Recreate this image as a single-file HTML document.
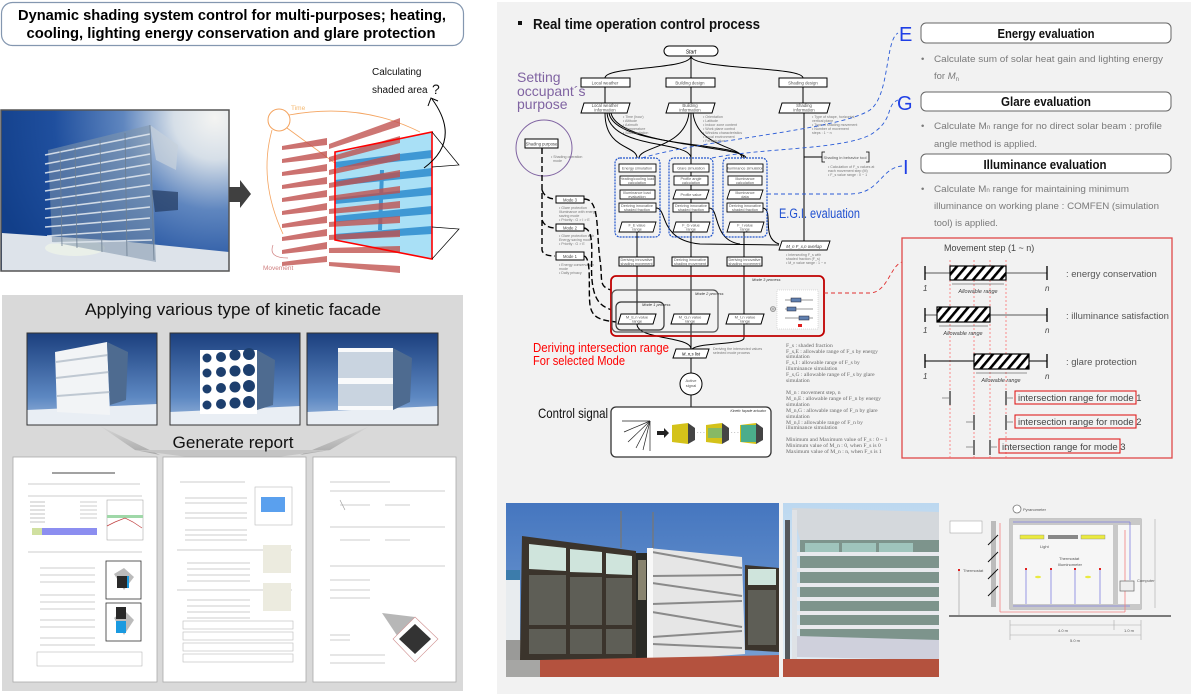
<!DOCTYPE html>
<html><head><meta charset="utf-8"><style>
html,body{margin:0;padding:0;background:#fff;}
svg{display:block;font-family:"Liberation Sans",sans-serif;}
</style></head><body>
<svg width="1191" height="694" viewBox="0 0 1191 694" xmlns="http://www.w3.org/2000/svg">
<defs>
<radialGradient id="p1" cx="215" cy="118" r="230" gradientUnits="userSpaceOnUse">
<stop offset="0" stop-color="#f4f4f2"/><stop offset="0.18" stop-color="#d6dfe8"/><stop offset="0.4" stop-color="#5f86bf"/><stop offset="0.7" stop-color="#1f4f9e"/><stop offset="1" stop-color="#123f8a"/></radialGradient>
<linearGradient id="kf" x1="0" y1="0" x2="0" y2="1"><stop offset="0" stop-color="#1b3f7e"/><stop offset="0.7" stop-color="#5d88c2"/><stop offset="1" stop-color="#9db8dc"/></linearGradient>
<linearGradient id="sky" x1="0" y1="0" x2="0" y2="1"><stop offset="0" stop-color="#4576bf"/><stop offset="1" stop-color="#7ba3d6"/></linearGradient>
<linearGradient id="sky2" x1="0" y1="0" x2="0" y2="1"><stop offset="0" stop-color="#bcd8f0"/><stop offset="1" stop-color="#e6eef4"/></linearGradient>
<linearGradient id="fun" x1="0" y1="0" x2="0" y2="1"><stop offset="0" stop-color="#d6d6d6"/><stop offset="1" stop-color="#a8a8a8"/></linearGradient>
<pattern id="hatch" width="7" height="7" patternUnits="userSpaceOnUse" patternTransform="rotate(40)"><rect width="7" height="7" fill="#fff"/><rect width="2.6" height="7" fill="#000"/></pattern>
<clipPath id="pan"><polygon points="335,152 432,132 432,259 335,240"/></clipPath>
</defs>

<!-- ===== LEFT TOP ===== -->
<rect x="1.5" y="2.5" width="462" height="43" rx="11" fill="#fff" stroke="#8497b0" stroke-width="1.2"/>
<text x="232" y="20" text-anchor="middle" font-size="15" font-weight="bold" textLength="428" lengthAdjust="spacingAndGlyphs">Dynamic shading system control for multi-purposes; heating,</text>
<text x="231" y="38" text-anchor="middle" font-size="15" font-weight="bold" textLength="409" lengthAdjust="spacingAndGlyphs">cooling, lighting energy conservation and glare protection</text>

<!-- photo 1 -->
<rect x="1" y="110" width="228" height="161" fill="url(#p1)"/>
<polygon points="2,233 120,241 229,252 229,271 2,271" fill="#dde3ea"/>
<ellipse cx="75" cy="248" rx="30" ry="8" fill="#eef2e8" opacity="0.8"/>
<polygon points="48,150 150,125 156,262 52,242" fill="#7f95ac" opacity="0.55"/>
<polygon points="150,125 178,145 176,170 156,160" fill="#c8d2dc" opacity="0.7"/>
<polygon points="152,190 178,192 178,210 155,212" fill="#233a60" opacity="0.7"/>
<g stroke="#dfe6ee" stroke-width="1.6" opacity="0.9">
<line x1="45" y1="155" x2="150" y2="134"/><line x1="45" y1="164" x2="150" y2="144"/><line x1="45" y1="173" x2="150" y2="154"/><line x1="45" y1="182" x2="150" y2="164"/><line x1="45" y1="191" x2="150" y2="174"/><line x1="45" y1="200" x2="150" y2="185"/><line x1="45" y1="209" x2="150" y2="196"/><line x1="45" y1="218" x2="150" y2="207"/><line x1="45" y1="227" x2="150" y2="218"/><line x1="47" y1="236" x2="150" y2="229"/><line x1="50" y1="243" x2="152" y2="240"/></g>
<g stroke="#6d7f92" stroke-width="0.8"><line x1="60" y1="150" x2="62" y2="246"/><line x1="75" y1="146" x2="77" y2="248"/><line x1="100" y1="140" x2="102" y2="252"/><line x1="125" y1="133" x2="127" y2="256"/><line x1="150" y1="125" x2="154" y2="260"/></g>
<rect x="1" y="110" width="228" height="161" fill="none" stroke="#555" stroke-width="1.5"/>
<!-- block arrow -->
<polygon points="229,187 240,187 240,180 251,194 240,208 240,202 229,202" fill="#404040"/>

<!-- shading diagram -->
<circle cx="279" cy="120" r="11" fill="none" stroke="#f4a460" stroke-width="1"/>
<text x="291" y="110" font-size="6.5" fill="#f4b870">Time</text>
<path d="M289,115 Q360,102 420,132" fill="none" stroke="#f4a460" stroke-width="0.8"/>
<path d="M272,130 Q258,180 283,234" fill="none" stroke="#f4a460" stroke-width="0.8"/>
<line x1="287" y1="128" x2="410" y2="218" stroke="#f4a460" stroke-width="0.8"/>
<g fill="#c0504d" opacity="0.8">
<polygon points="282,146 327,138 327,145 282,150"/><polygon points="282,159 327,151 327,158 282,163"/><polygon points="282,172 327,164 327,171 282,176"/><polygon points="282,185 327,177 327,184 282,189"/><polygon points="282,198 327,190 327,197 282,202"/><polygon points="282,211 327,203 327,210 282,215"/><polygon points="282,224 327,216 327,223 282,228"/><polygon points="282,237 327,229 327,236 282,241"/><polygon points="282,250 327,242 327,249 282,254"/>
</g>
<polygon points="335,152 432,132 432,259 335,240" fill="#a9e0f6"/>
<g clip-path="url(#pan)" fill="#3f98d4">
<polygon points="335,162 432,150 432,158 335,168"/><polygon points="335,180 432,168 432,176 335,186"/><polygon points="335,198 432,187 432,195 335,204"/><polygon points="335,216 432,206 432,214 335,222"/><polygon points="335,234 432,226 432,234 335,240"/><polygon points="380,170 384,170 382,230 378,230"/></g>
<g fill="#c0504d" opacity="0.78">
<polygon points="329,144 400,118 400,126 329,149"/><polygon points="329,157 400,136 400,143 329,162"/><polygon points="329,170 400,153 400,160 329,175"/><polygon points="329,183 400,170 400,177 329,188"/><polygon points="329,196 400,186 400,193 329,201"/><polygon points="329,209 400,201 400,208 329,214"/><polygon points="329,222 400,216 400,223 329,227"/><polygon points="329,235 400,230 400,237 329,240"/><polygon points="329,248 400,246 400,253 329,253"/><polygon points="329,262 400,266 400,273 329,266"/>
<polygon points="282,262 327,256 327,262 282,266"/></g>
<polygon points="335,152 432,132 432,259 335,240" fill="none" stroke="#ff0000" stroke-width="1.6"/>
<polyline points="432,132 459,165 432,167" fill="none" stroke="#000" stroke-width="0.7"/>
<polyline points="432,227 459,229 432,259" fill="none" stroke="#000" stroke-width="0.7"/>
<path d="M424,168 Q462,140 432,99" fill="none" stroke="#000" stroke-width="1"/>
<polyline points="428,106 431,98 438,101" fill="none" stroke="#000" stroke-width="1"/>
<text x="372" y="75" font-size="10" fill="#111">Calculating</text>
<text x="372" y="93" font-size="10" fill="#111">shaded area</text>
<text x="432" y="94" font-size="14" fill="#111">?</text>
<path d="M273,245 Q268,258 288,258" fill="none" stroke="#d08080" stroke-width="0.7"/>
<text x="263" y="270" font-size="6.5" fill="#d08080">Movement</text>

<!-- ===== LEFT BOTTOM ===== -->
<rect x="2" y="295" width="461" height="396" fill="#d9d9d9"/>
<text x="233" y="315" text-anchor="middle" font-size="17" fill="#111" textLength="296" lengthAdjust="spacingAndGlyphs">Applying various type of kinetic facade</text>
<!-- img 1 -->
<rect x="27" y="333" width="130" height="92" fill="url(#kf)"/>
<polygon points="27,410 157,404 157,425 27,425" fill="#e9eef4"/>
<polygon points="55,352 107,342 110,415 57,412" fill="#f2f4f6"/>
<g stroke="#bfc8d2" stroke-width="2"><line x1="56" y1="362" x2="108" y2="355"/><line x1="56" y1="378" x2="109" y2="372"/><line x1="57" y1="396" x2="110" y2="392"/></g>
<polygon points="107,342 128,352 126,400 110,405" fill="#4e6b90"/>
<!-- img 2 -->
<rect x="170" y="333" width="130" height="92" fill="url(#kf)"/>
<polygon points="170,412 300,406 300,425 170,425" fill="#e9eef4"/>
<g fill="#fff"><rect x="200" y="350" width="57" height="64"/></g>
<g fill="#1d3f6e">
<circle cx="207" cy="358" r="4.5"/><circle cx="221" cy="357" r="5"/><circle cx="235" cy="355" r="5.5"/><circle cx="249" cy="354" r="6"/>
<circle cx="207" cy="373" r="4.5"/><circle cx="221" cy="372" r="5"/><circle cx="235" cy="371" r="5.5"/><circle cx="249" cy="370" r="6"/>
<circle cx="207" cy="389" r="4.5"/><circle cx="221" cy="388" r="5"/><circle cx="235" cy="387" r="5.5"/><circle cx="249" cy="386" r="6"/>
<circle cx="207" cy="405" r="4.5"/><circle cx="221" cy="404" r="5"/><circle cx="235" cy="403" r="5.5"/><circle cx="249" cy="402" r="6"/></g>
<polygon points="257,350 275,360 273,405 257,410" fill="#4e6b90"/>
<!-- img 3 -->
<rect x="307" y="333" width="131" height="92" fill="url(#kf)"/>
<polygon points="307,412 438,406 438,425 307,425" fill="#e9eef4"/>
<rect x="338" y="348" width="55" height="62" fill="#c9d4e0"/>
<g fill="#fff" opacity="0.9"><rect x="338" y="348" width="55" height="4"/><rect x="338" y="378" width="55" height="6"/><rect x="338" y="406" width="55" height="4"/></g>
<polygon points="393,348 412,358 410,402 393,410" fill="#4e6b90"/>
<rect x="27" y="333" width="130" height="92" fill="none" stroke="#333" stroke-width="1"/>
<rect x="170" y="333" width="130" height="92" fill="none" stroke="#333" stroke-width="1"/>
<rect x="307" y="333" width="131" height="92" fill="none" stroke="#333" stroke-width="1"/>
<!-- funnel -->
<polygon points="100,426 160,455 135,450" fill="url(#fun)"/>
<polygon points="370,426 300,455 330,450" fill="url(#fun)"/>
<polygon points="135,450 330,450 233,463" fill="#c4c4c4"/>
<text x="233" y="448" text-anchor="middle" font-size="17" fill="#111" textLength="121" lengthAdjust="spacingAndGlyphs">Generate report</text>
<!-- pages -->
<rect x="13" y="457" width="144" height="225" fill="#fff" stroke="#aaa" stroke-width="0.8"/>
<rect x="163" y="457" width="143" height="225" fill="#fff" stroke="#aaa" stroke-width="0.8"/>
<rect x="313" y="457" width="143" height="225" fill="#fff" stroke="#aaa" stroke-width="0.8"/>
<g stroke="#9a9a9a" stroke-width="0.6">
<line x1="52" y1="473" x2="115" y2="473" stroke="#444" stroke-width="1"/>
<line x1="28" y1="484" x2="140" y2="484"/><line x1="28" y1="496" x2="142" y2="496"/>
<line x1="30" y1="502" x2="45" y2="502"/><line x1="30" y1="506" x2="45" y2="506"/><line x1="30" y1="510" x2="45" y2="510"/><line x1="30" y1="514" x2="45" y2="514"/><line x1="30" y1="518" x2="45" y2="518"/><line x1="30" y1="522" x2="45" y2="522"/>
<line x1="80" y1="502" x2="97" y2="502"/><line x1="80" y1="506" x2="97" y2="506"/><line x1="80" y1="510" x2="97" y2="510"/><line x1="80" y1="514" x2="97" y2="514"/><line x1="80" y1="518" x2="97" y2="518"/>
<line x1="28" y1="552" x2="142" y2="552"/>
<line x1="40" y1="568" x2="95" y2="568"/><line x1="40" y1="575" x2="95" y2="575"/><line x1="40" y1="582" x2="95" y2="582"/><line x1="40" y1="595" x2="95" y2="595"/><line x1="40" y1="602" x2="95" y2="602"/><line x1="40" y1="609" x2="95" y2="609"/><line x1="40" y1="620" x2="95" y2="620"/><line x1="40" y1="627" x2="95" y2="627"/><line x1="40" y1="638" x2="95" y2="638"/><line x1="40" y1="645" x2="95" y2="645"/>
</g>
<rect x="32" y="528" width="65" height="7" fill="#8c8ef0"/><rect x="32" y="528" width="10" height="7" fill="#d0e0a0"/>
<rect x="107" y="500" width="36" height="40" fill="none" stroke="#999" stroke-width="0.5"/>
<rect x="107" y="515" width="36" height="3" fill="#9fd8a8"/>
<polyline points="107,526 115,522 125,518 133,522 142,528" fill="none" stroke="#c04040" stroke-width="0.7"/>
<rect x="106" y="561" width="35" height="38" fill="#fff" stroke="#333" stroke-width="0.8"/>
<polygon points="114,574 124,568 134,577 124,590" fill="#bbb"/><rect x="117" y="576" width="10" height="12" fill="#2a2a2a"/><rect x="127" y="576" width="2" height="12" fill="#1a9ae0"/>
<rect x="106" y="603" width="35" height="38" fill="#fff" stroke="#333" stroke-width="0.8"/>
<polygon points="114,618 124,610 134,620 124,635" fill="#bbb"/><rect x="116" y="607" width="10" height="12" fill="#2a2a2a"/><rect x="116" y="621" width="10" height="12" fill="#1a9ae0"/>
<rect x="37" y="652" width="105" height="14" fill="#fff" stroke="#aaa" stroke-width="0.5"/>
<g stroke="#9a9a9a" stroke-width="0.6">
<line x1="180" y1="482" x2="245" y2="482"/><line x1="185" y1="498" x2="247" y2="498"/><line x1="185" y1="503" x2="247" y2="503"/><line x1="185" y1="513" x2="247" y2="513"/><line x1="185" y1="518" x2="247" y2="518"/><line x1="185" y1="530" x2="247" y2="530"/><line x1="185" y1="535" x2="247" y2="535"/><line x1="185" y1="540" x2="247" y2="540"/>
<line x1="177" y1="550" x2="292" y2="550"/><line x1="177" y1="590" x2="292" y2="590"/>
<line x1="187" y1="563" x2="250" y2="563"/><line x1="187" y1="569" x2="250" y2="569"/><line x1="187" y1="575" x2="250" y2="575"/><line x1="187" y1="581" x2="250" y2="581"/><line x1="187" y1="600" x2="250" y2="600"/><line x1="187" y1="606" x2="250" y2="606"/><line x1="187" y1="612" x2="250" y2="612"/><line x1="187" y1="618" x2="250" y2="618"/>
</g>
<rect x="255" y="487" width="37" height="38" fill="#fff" stroke="#bbb" stroke-width="0.6"/>
<rect x="261" y="497" width="24" height="15" fill="#5aa0ee"/>
<rect x="263" y="545" width="28" height="28" fill="#ecebdf"/><rect x="263" y="583" width="28" height="28" fill="#ecebdf"/>
<g fill="none" stroke="#bbb" stroke-width="0.6"><rect x="183" y="621" width="110" height="8"/><rect x="183" y="632" width="110" height="8"/><rect x="183" y="643" width="110" height="8"/><rect x="183" y="654" width="110" height="8"/></g>
<g stroke="#9a9a9a" stroke-width="0.6">
<line x1="330" y1="482" x2="390" y2="482"/><line x1="330" y1="491" x2="445" y2="491"/><line x1="330" y1="527" x2="445" y2="527"/><line x1="330" y1="566" x2="445" y2="566"/>
<line x1="340" y1="500" x2="345" y2="510"/><line x1="340" y1="505" x2="370" y2="505"/><line x1="385" y1="505" x2="410" y2="505"/><line x1="340" y1="540" x2="370" y2="540"/><line x1="385" y1="540" x2="410" y2="540"/>
<line x1="330" y1="580" x2="370" y2="580"/><line x1="330" y1="590" x2="370" y2="590"/><line x1="330" y1="598" x2="370" y2="598"/><line x1="330" y1="635" x2="350" y2="635"/><line x1="330" y1="640" x2="350" y2="640"/>
<line x1="330" y1="655" x2="385" y2="655"/><line x1="330" y1="663" x2="385" y2="663"/>
</g>
<polygon points="382,613 415,617 400,640" fill="#999" opacity="0.7"/>
<polygon points="415,617 438,639 415,662 393,639" fill="#fff" stroke="#d09090" stroke-width="0.6"/>
<polygon points="415,624 431,639 415,654 399,639" fill="#333"/>

<!-- ===== RIGHT PANEL ===== -->
<rect x="497" y="2" width="694" height="692" fill="#f2f2f2"/>
<rect x="518" y="21" width="4" height="4" fill="#111"/>
<text x="533" y="29" font-size="15" font-weight="bold" fill="#111" textLength="227" lengthAdjust="spacingAndGlyphs">Real time operation control process</text>
<text x="517" y="82" font-size="14" fill="#8064a2">Setting</text>
<text x="517" y="96" font-size="14" fill="#8064a2">occupant´s</text>
<text x="517" y="109" font-size="14" fill="#8064a2">purpose</text>

<!-- flowchart lines -->
<g fill="none" stroke="#000" stroke-width="1">
<path d="M691,56 C691,70 605,66 605,78"/><line x1="691" y1="56" x2="691" y2="78"/><path d="M691,56 C691,70 803,66 803,78"/>
<line x1="605" y1="87" x2="605" y2="103"/><line x1="691" y1="87" x2="691" y2="103"/><line x1="803" y1="87" x2="803" y2="103"/>
<path d="M605,113 C605,150 637,145 637,158"/><path d="M607,113 C610,150 690,140 691,158"/><path d="M609,113 C615,148 744,142 744,158"/><path d="M611,113 C618,146 745,146 746,158"/>
<path d="M689,113 C685,148 640,146 639,158"/><path d="M693,113 C697,148 742,146 742,158"/>
<line x1="691" y1="113" x2="691" y2="349"/>
<line x1="804" y1="113" x2="804" y2="241"/><line x1="804" y1="157" x2="822" y2="157"/>
<line x1="637" y1="232" x2="637" y2="314"/><line x1="744" y1="232" x2="744" y2="314"/>
<path d="M656,208 C668,208 658,240 700,244 L779,245"/><path d="M709,208 C720,208 712,240 740,244"/><path d="M762,208 C775,208 760,238 779,244"/>
<path d="M637,324 C637,340 691,336 691,349"/><path d="M744,324 L744,338 C744,345 700,342 692,349"/>
<line x1="691" y1="358" x2="691" y2="373"/><line x1="691" y1="395" x2="691" y2="407"/>
</g>
<!-- top nodes -->
<rect x="664" y="46" width="54" height="10" rx="5" fill="#fff" stroke="#000" stroke-width="1"/>
<text x="691" y="53.5" text-anchor="middle" font-size="5" font-style="italic">Start</text>
<g fill="#fff" stroke="#000" stroke-width="1">
<rect x="581" y="78" width="49" height="9"/><rect x="666" y="78" width="49" height="9"/><rect x="779" y="78" width="48" height="9"/>
<polygon points="584,103 630,103 627,113 581,113"/><polygon points="669,103 715,103 712,113 666,113"/><polygon points="782,103 830,103 827,113 779,113"/>
</g>
<g font-size="4.3" fill="#555" text-anchor="middle">
<text x="605" y="84.5">Local weather</text><text x="690" y="84.5">Building design</text><text x="803" y="84.5">Shading design</text>
<text x="605" y="107">Local weather</text><text x="605" y="111.5">information</text><text x="690" y="107">Building</text><text x="690" y="111.5">information</text><text x="804" y="107">Shading</text><text x="804" y="111.5">information</text>
</g>
<g font-size="3.6" fill="#777">
<text x="623" y="118">•  Time (hour)</text><text x="623" y="122">•  Altitude</text><text x="623" y="126">•  Azimuth</text><text x="623" y="130">•  Temperature</text><text x="623" y="134">•  Solar radiation</text>
<text x="703" y="118">•  Orientation</text><text x="703" y="122">•  Latitude</text><text x="703" y="126">•  Indoor zone content</text><text x="703" y="130">•  Work plane control</text><text x="703" y="134">•  Window characteristics</text><text x="703" y="138">•  Local environment</text><text x="703" y="142">•  Fenestration</text>
<text x="812" y="118">•  Type of shape, horizontal,</text><text x="812" y="122">   vertical plane</text><text x="812" y="126">•  Type of shading movement</text><text x="812" y="130">•  Number of movement</text><text x="812" y="134">   steps : 1 ~ n</text>
<text x="828" y="168">•  Calculation of F_s values at</text><text x="828" y="172">   each movement step (M)</text><text x="828" y="176">•  F_s value range : 0 ~ 1</text>
<text x="786" y="256">•  Intersecting F_s with</text><text x="786" y="260">   shaded fraction (F_s)</text><text x="786" y="264">•  M_n value range : 1 ~ n</text>
<text x="551" y="158">•  Shading operation</text><text x="553" y="162">   mode</text>
<text x="559" y="209">•  Glare protection</text><text x="559" y="213">   Illuminance with energy</text><text x="559" y="217">   saving mode</text><text x="559" y="221">•  Priority : G &gt; I &gt; E</text>
<text x="559" y="237">•  Glare protection with</text><text x="559" y="241">   Energy saving mode</text><text x="559" y="245">•  Priority : G &gt; E</text>
<text x="559" y="266">•  Energy conservation</text><text x="559" y="270">   mode</text><text x="559" y="274">•  Daily privacy</text>
<text x="713" y="350">Deriving the intersected values</text><text x="713" y="354">selected mode process</text>
</g>
<!-- shading bracket -->
<path d="M825,152 L822,152 L822,162 L825,162 M866,152 L869,152 L869,162 L866,162" fill="none" stroke="#000" stroke-width="0.8"/>
<text x="845" y="159" text-anchor="middle" font-size="4" fill="#555">Shading in behavior tool</text>
<!-- EGI boxes -->
<g fill="none" stroke="#2255cc" stroke-width="1.2" stroke-dasharray="2,1">
<rect x="615" y="158" width="45" height="79" rx="5"/><rect x="669" y="158" width="44" height="79" rx="5"/><rect x="723" y="158" width="44" height="79" rx="5"/></g>
<g fill="#fff" stroke="#000" stroke-width="0.9">
<rect x="619" y="164" width="37" height="8"/><rect x="620" y="176" width="35" height="9"/><rect x="620" y="190" width="35" height="9"/><rect x="619" y="203" width="37" height="9"/><polygon points="622,222 656,222 653,232 619,232"/>
<rect x="673" y="164" width="36" height="8"/><rect x="674" y="176" width="34" height="9"/><polygon points="676,190 709,190 706,199 673,199"/><rect x="673" y="203" width="36" height="9"/><polygon points="676,222 710,222 707,232 673,232"/>
<rect x="727" y="164" width="36" height="8"/><rect x="728" y="176" width="34" height="9"/><polygon points="730,190 763,190 760,199 727,199"/><rect x="727" y="203" width="36" height="9"/><polygon points="730,222 764,222 761,232 727,232"/>
</g>
<g font-size="3.8" fill="#555" text-anchor="middle">
<text x="637" y="169.5">Energy simulation</text><text x="637" y="180">Heating/cooling load</text><text x="637" y="184">calculation</text><text x="637" y="194">Illuminance load</text><text x="637" y="198">evaluation</text><text x="637" y="207">Deriving innovative</text><text x="637" y="211">shaded fraction</text><text x="637" y="226.5">F_E value</text><text x="637" y="230.5">range</text>
<text x="691" y="169.5">Glare simulation</text><text x="691" y="180">Profile angle</text><text x="691" y="184">calculation</text><text x="691" y="196">Profile value</text><text x="691" y="207">Deriving innovative</text><text x="691" y="211">shaded fraction</text><text x="691" y="226.5">F_G value</text><text x="691" y="230.5">range</text>
<text x="745" y="169.5">Illuminance simulation</text><text x="745" y="180">Illuminance</text><text x="745" y="184">calculation</text><text x="745" y="194">Illuminance</text><text x="745" y="198">data</text><text x="745" y="207">Deriving innovative</text><text x="745" y="211">shaded fraction</text><text x="745" y="226.5">F_I value</text><text x="745" y="230.5">range</text>
</g>
<text x="779" y="218" font-size="13.5" fill="#2050d0" textLength="81" lengthAdjust="spacingAndGlyphs">E.G.I. evaluation</text>
<polygon points="782,241 830,241 827,250 779,250" fill="#fff" stroke="#000" stroke-width="0.9"/>
<text x="804" y="248" text-anchor="middle" font-size="4.3" fill="#333" font-style="italic">M_n F_x,n overlap</text>

<!-- purpose circle & modes -->
<circle cx="544" cy="148" r="28" fill="none" stroke="#8064a2" stroke-width="1"/>
<g fill="none" stroke="#000" stroke-width="1.4" stroke-dasharray="6,3">
<path d="M542,148 L542,250 Q543,256 555,256"/><path d="M542,190 Q545,199 556,199"/><path d="M542,220 Q545,228 556,228"/>
<path d="M584,199 C600,199 596,230 600,260 C603,280 598,286 611,290"/><path d="M584,228 C596,230 590,260 592,280 C594,300 600,306 612,310"/><path d="M584,256 C592,258 588,290 590,305 C592,318 600,320 616,322"/></g>
<g fill="#fff" stroke="#000" stroke-width="1">
<rect x="525" y="139" width="33" height="9"/><rect x="556" y="196" width="28" height="7"/><rect x="556" y="224" width="28" height="7"/><rect x="556" y="252" width="28" height="8"/></g>
<g font-size="4.2" fill="#444" text-anchor="middle"><text x="541.5" y="145.5">Shading purpose</text><text x="570" y="201.5">Mode 3</text><text x="570" y="229.5">Mode 2</text><text x="570" y="258">Mode 1</text></g>

<!-- deriving boxes -->
<g fill="#fff" stroke="#000" stroke-width="1"><rect x="619" y="257" width="35" height="9"/><rect x="672" y="257" width="36" height="9"/><rect x="727" y="257" width="35" height="9"/></g>
<g font-size="3.8" fill="#555" text-anchor="middle"><text x="636.5" y="261">Deriving innovative</text><text x="636.5" y="265">shading movement</text><text x="690" y="261">Deriving innovative</text><text x="690" y="265">shading movement</text><text x="744.5" y="261">Deriving innovative</text><text x="744.5" y="265">shading movement</text></g>
<!-- mode process -->
<rect x="611" y="276" width="213" height="60" rx="5" fill="none" stroke="#c00000" stroke-width="1.8"/>
<rect x="612" y="290" width="106" height="42" rx="5" fill="none" stroke="#555" stroke-width="1.2"/>
<rect x="616" y="302" width="48" height="28" rx="5" fill="none" stroke="#333" stroke-width="1.2"/>
<g font-size="4" font-style="italic" fill="#333"><text x="752" y="281">Mode 3 process</text><text x="695" y="295">Mode 2 process</text><text x="642" y="306">Mode 1 process</text></g>
<g fill="#fff" stroke="#000" stroke-width="1"><polygon points="621,314 656,314 653,324 618,324"/><polygon points="674,314 710,314 707,324 671,324"/><polygon points="729,314 764,314 761,324 726,324"/></g>
<g font-size="4" fill="#555" text-anchor="middle"><text x="637" y="318.5">M_E,n value</text><text x="637" y="322.5">range</text><text x="690" y="318.5">M_G,n value</text><text x="690" y="322.5">range</text><text x="745" y="318.5">M_I,n value</text><text x="745" y="322.5">range</text></g>
<circle cx="773" cy="309" r="2.5" fill="none" stroke="#666" stroke-width="0.6"/><line x1="771" y1="309" x2="775" y2="309" stroke="#666" stroke-width="0.5"/><line x1="773" y1="307" x2="773" y2="311" stroke="#666" stroke-width="0.5"/>
<rect x="777" y="290" width="41" height="39" fill="#fff" stroke="#bbb" stroke-width="0.5" stroke-dasharray="1,1"/>
<g stroke="#333" stroke-width="0.6"><line x1="785" y1="300" x2="813" y2="300"/><line x1="785" y1="309" x2="813" y2="309"/><line x1="785" y1="318" x2="813" y2="318"/></g>
<g fill="#6080b0" stroke="#223" stroke-width="0.5"><rect x="791" y="298" width="10" height="4"/><rect x="787" y="307" width="9" height="4"/><rect x="799" y="316" width="10" height="4"/></g>
<rect x="798" y="324" width="4" height="3" fill="#e02020"/>
<!-- M_n,s -->
<polygon points="676,349 709,349 706,358 673,358" fill="#fff" stroke="#000" stroke-width="1"/>
<text x="691" y="355.5" text-anchor="middle" font-size="4.3" font-style="italic">M_n,s list</text>
<circle cx="691" cy="384" r="11" fill="#fff" stroke="#000" stroke-width="1"/>
<text x="691" y="382" text-anchor="middle" font-size="4" fill="#555">Active</text><text x="691" y="387" text-anchor="middle" font-size="4" fill="#555">signal</text>
<text x="533" y="352" font-size="13" fill="#ff0000" textLength="136" lengthAdjust="spacingAndGlyphs">Deriving intersection range</text>
<text x="533" y="365" font-size="13" fill="#ff0000" textLength="92" lengthAdjust="spacingAndGlyphs">For selected Mode</text>
<text x="538" y="418" font-size="14" fill="#111" textLength="70" lengthAdjust="spacingAndGlyphs">Control signal</text>
<!-- control box -->
<rect x="611" y="407" width="160" height="50" rx="5" fill="#fff" stroke="#333" stroke-width="1.3"/>
<text x="766" y="412" text-anchor="end" font-size="3.5" font-style="italic" fill="#333">Kinetic façade actuator</text>
<g stroke="#222" stroke-width="0.7"><line x1="650" y1="421" x2="624" y2="432"/><line x1="650" y1="421" x2="628" y2="442"/><line x1="650" y1="421" x2="636" y2="448"/><line x1="650" y1="421" x2="643" y2="450"/><line x1="650" y1="421" x2="650" y2="451"/><line x1="622" y1="421" x2="650" y2="421"/></g>
<polygon points="657,431 664,431 664,428 669,433 664,438 664,435 657,435" fill="#222"/>
<polygon points="672,425 688,423 688,444 672,442" fill="#d4c21a"/><polygon points="688,423 695,428 695,440 688,444" fill="#444"/>
<polygon points="706,425 722,423 722,444 706,442" fill="#d4c21a"/><rect x="708" y="428" width="14" height="10" fill="#3ab0b0" opacity="0.5"/><polygon points="722,423 729,428 729,440 722,444" fill="#444"/>
<polygon points="740,425 756,423 756,444 740,442" fill="#d4c21a"/><rect x="741" y="425" width="15" height="17" fill="#28a8a8" opacity="0.8"/><polygon points="756,423 763,428 763,440 756,444" fill="#444"/>
<text x="697" y="434" font-size="5" fill="#333">· · ·</text><text x="731" y="434" font-size="5" fill="#333">· · ·</text>
<!-- legend -->
<g font-family="Liberation Serif,serif" font-size="5.6" fill="#666">
<text x="786" y="347">F_s          : shaded fraction</text><text x="786" y="353">F_s,E        : allowable range of F_s by energy</text><text x="786" y="358">simulation</text><text x="786" y="364">F_s,I        : allowable range of F_s by</text><text x="786" y="370">illuminance simulation</text><text x="786" y="376">F_s,G       : allowable range of F_s by glare</text><text x="786" y="382">simulation</text>
<text x="786" y="394">M_n         : movement step, n</text><text x="786" y="400">M_n,E       : allowable range of F_n by energy</text><text x="786" y="406">simulation</text><text x="786" y="412">M_n,G       : allowable range of F_n by glare</text><text x="786" y="418">simulation</text><text x="786" y="424">M_n,I        : allowable range of F_n by</text><text x="786" y="429">illuminance simulation</text>
<text x="786" y="441">Minimum and Maximum value of F_s : 0 ~ 1</text><text x="786" y="447">Minimum value of M_n : 0, when F_s is 0</text><text x="786" y="453">Maximum value of M_n : n, when F_s is 1</text></g>

<!-- dashed connectors -->
<g fill="none" stroke="#2a5bd7" stroke-width="0.9" stroke-dasharray="4,3">
<path d="M642,158 C700,140 840,130 870,110 C890,95 885,40 898,33"/>
<path d="M712,158 C760,148 840,150 870,135 C895,120 885,105 898,100"/>
<path d="M767,194 L850,194 C880,194 880,168 902,166"/></g>
<path d="M824,293 L870,293 C888,292 890,266 902,262" fill="none" stroke="#e03030" stroke-width="0.9" stroke-dasharray="4,3"/>

<!-- right evaluations -->
<text x="899" y="41" font-size="20" fill="#1f3fe6">E</text>
<text x="897" y="110" font-size="20" fill="#1f3fe6">G</text>
<text x="903" y="174" font-size="20" fill="#1f3fe6">I</text>
<g fill="#fff" stroke="#666" stroke-width="1"><rect x="921" y="23" width="250" height="20" rx="5"/><rect x="921" y="92" width="250" height="19" rx="5"/><rect x="921" y="154" width="250" height="19" rx="5"/></g>
<text x="1046" y="38" text-anchor="middle" font-size="12.5" font-weight="bold" fill="#111" textLength="97" lengthAdjust="spacingAndGlyphs">Energy evaluation</text>
<text x="1046" y="106" text-anchor="middle" font-size="12.5" font-weight="bold" fill="#111" textLength="90" lengthAdjust="spacingAndGlyphs">Glare evaluation</text>
<text x="1045" y="169" text-anchor="middle" font-size="12.5" font-weight="bold" fill="#111" textLength="123" lengthAdjust="spacingAndGlyphs">Illuminance evaluation</text>
<g font-size="9.5" fill="#7a7a7a">
<text x="921" y="62">•</text><text x="934" y="62" textLength="229" lengthAdjust="spacingAndGlyphs">Calculate sum of solar heat gain and lighting energy</text>
<text x="934" y="79">for <tspan font-style="italic">M</tspan><tspan font-size="6" dy="2">n</tspan></text>
<text x="921" y="129">•</text><text x="934" y="129" textLength="228" lengthAdjust="spacingAndGlyphs">Calculate  M<tspan font-size="6">n</tspan> range for no direct solar beam : profile</text>
<text x="934" y="147">angle method is applied.</text>
<text x="921" y="192">•</text><text x="934" y="192" textLength="195" lengthAdjust="spacingAndGlyphs">Calculate  M<tspan font-size="6">n</tspan> range for maintaining minimum</text>
<text x="934" y="209" textLength="225" lengthAdjust="spacingAndGlyphs">illuminance on working plane : COMFEN (simulation</text>
<text x="934" y="226">tool) is applied.</text></g>

<!-- movement step box -->
<rect x="902" y="238" width="270" height="220" fill="none" stroke="#e04848" stroke-width="1.3"/>
<text x="944" y="251" font-size="9" fill="#444">Movement step (1 ~ n)</text>
<g stroke="#ff6060" stroke-width="0.7" stroke-dasharray="2,2"><line x1="950" y1="260" x2="950" y2="458"/><line x1="974" y1="260" x2="974" y2="458"/><line x1="990" y1="260" x2="990" y2="458"/><line x1="1006" y1="260" x2="1006" y2="458"/></g>
<g stroke="#777" stroke-width="1.3"><line x1="925" y1="273" x2="1047" y2="273"/><line x1="925" y1="315" x2="1047" y2="315"/></g>
<line x1="925" y1="361" x2="1047" y2="361" stroke="#000" stroke-width="1"/>
<g stroke="#000" stroke-width="1.3"><line x1="925" y1="266" x2="925" y2="280"/><line x1="1047" y1="266" x2="1047" y2="280"/><line x1="925" y1="308" x2="925" y2="322"/><line x1="1047" y1="308" x2="1047" y2="322"/><line x1="925" y1="354" x2="925" y2="368"/><line x1="1047" y1="354" x2="1047" y2="368"/></g>
<rect x="950" y="266" width="56" height="14" fill="url(#hatch)" stroke="#000" stroke-width="1.2"/>
<rect x="937" y="307" width="53" height="15" fill="url(#hatch)" stroke="#000" stroke-width="1.2"/>
<rect x="974" y="354" width="55" height="15" fill="url(#hatch)" stroke="#000" stroke-width="1.2"/>
<g stroke="#333" stroke-width="0.5"><line x1="952" y1="284" x2="1004" y2="284"/><line x1="939" y1="326" x2="988" y2="326"/><line x1="976" y1="373" x2="1027" y2="373"/></g>
<g font-size="5.5" font-style="italic" fill="#444" text-anchor="middle"><text x="978" y="293">Allowable range</text><text x="963" y="335">Allowable range</text><text x="1001" y="382">Allowable range</text></g>
<g font-size="8" font-style="italic" fill="#444"><text x="923" y="291">1</text><text x="1045" y="291">n</text><text x="923" y="333">1</text><text x="1045" y="333">n</text><text x="923" y="379">1</text><text x="1045" y="379">n</text></g>
<g font-size="9.5" fill="#555"><text x="1066" y="277">: energy conservation</text><text x="1066" y="319">: illuminance satisfaction</text><text x="1066" y="365">: glare protection</text></g>
<g stroke="#222" stroke-width="1.2"><line x1="950" y1="391" x2="950" y2="405"/><line x1="1006" y1="391" x2="1006" y2="405"/><line x1="974" y1="415" x2="974" y2="430"/><line x1="1006" y1="415" x2="1006" y2="430"/><line x1="974" y1="440" x2="974" y2="455"/><line x1="990" y1="440" x2="990" y2="455"/></g>
<g stroke="#555" stroke-width="0.6"><line x1="942" y1="398" x2="949" y2="398"/><line x1="1007" y1="398" x2="1013" y2="398"/><line x1="966" y1="422" x2="973" y2="422"/><line x1="1007" y1="422" x2="1013" y2="422"/><line x1="966" y1="447" x2="973" y2="447"/><line x1="991" y1="447" x2="997" y2="447"/></g>
<g fill="none" stroke="#e02020" stroke-width="1.1"><rect x="1015" y="391" width="121" height="13"/><rect x="1015" y="415" width="121" height="13"/><rect x="999" y="439" width="121" height="14"/></g>
<g font-size="9.5" fill="#444"><text x="1018" y="401">intersection range for mode 1</text><text x="1018" y="425">intersection range for mode 2</text><text x="1002" y="450">intersection range for mode 3</text></g>

<!-- bottom photo 1 -->
<rect x="506" y="503" width="273" height="174" fill="url(#sky)"/>
<polygon points="506,572 520,570 520,640 506,640" fill="#e8ecef"/><rect x="506" y="570" width="14" height="10" fill="#3c7cab"/>
<rect x="506" y="640" width="30" height="37" fill="#9a9a98"/>
<line x1="621" y1="511" x2="621" y2="548" stroke="#777" stroke-width="1.3"/><line x1="653" y1="512" x2="653" y2="548" stroke="#777" stroke-width="1.3"/>
<polygon points="522,536 636,551 636,660 520,660" fill="#3b342c"/>
<g fill="#cfe4dc"><polygon points="529,544 566,548 566,571 529,569"/><polygon points="570,549 602,552 602,573 570,572"/><polygon points="606,553 632,556 632,575 606,574"/></g>
<g fill="#5e5e56"><rect x="529" y="575" width="37" height="50"/><rect x="570" y="577" width="32" height="48"/><rect x="606" y="578" width="26" height="47"/><rect x="529" y="629" width="37" height="25"/><rect x="570" y="629" width="32" height="25"/><rect x="606" y="629" width="26" height="25"/></g>
<rect x="636" y="553" width="14" height="110" fill="#2a2a26"/><rect x="638" y="560" width="8" height="40" fill="#c8c0a0" opacity="0.6"/>
<polygon points="745,565 779,568 779,652 745,650" fill="#3b342c"/><rect x="748" y="569" width="28" height="16" fill="#cfe4dc"/><rect x="748" y="590" width="28" height="55" fill="#5e5e56"/>
<polygon points="648,548 742,557 745,654 650,661" fill="#e6e6e6"/>
<g stroke="#8a8a8a" stroke-width="2"><line x1="652" y1="552" x2="742" y2="568"/><line x1="652" y1="576" x2="742" y2="575"/><line x1="652" y1="583" x2="742" y2="596"/><line x1="652" y1="604" x2="742" y2="601"/><line x1="652" y1="612" x2="742" y2="627"/><line x1="652" y1="637" x2="742" y2="631"/><line x1="652" y1="644" x2="742" y2="648"/></g>
<rect x="647" y="548" width="6" height="114" fill="#f8f8f8"/>
<polygon points="540,660 779,655 779,677 530,677" fill="#b4523e"/>
<rect x="506" y="660" width="34" height="17" fill="#a6a6a4"/>
<!-- bottom photo 2 -->
<rect x="783" y="503" width="156" height="174" fill="url(#sky2)"/>
<polygon points="792,508 939,512 939,545 800,540" fill="#d4d8dc"/>
<rect x="800" y="540" width="139" height="100" fill="#7d948c"/>
<g fill="#a8d0c8" opacity="0.8"><rect x="805" y="543" width="34" height="12"/><rect x="842" y="543" width="34" height="12"/><rect x="879" y="543" width="34" height="12"/></g>
<g fill="#e8eaee"><rect x="795" y="552" width="144" height="4"/><rect x="795" y="568" width="144" height="4"/><rect x="795" y="583" width="144" height="4"/><rect x="795" y="597" width="144" height="4"/><rect x="795" y="611" width="144" height="4"/><rect x="795" y="625" width="144" height="4"/></g>
<rect x="792" y="510" width="5" height="150" fill="#dfe2e6"/><rect x="785" y="520" width="5" height="150" fill="#55585c"/>
<polygon points="797,636 939,640 939,660 797,657" fill="#cfd0dc"/>
<rect x="783" y="659" width="156" height="18" fill="#b4523e"/>
<!-- bottom diagram -->
<line x1="949" y1="616" x2="1171" y2="616" stroke="#333" stroke-width="1.3"/>
<rect x="1010" y="519" width="131" height="90" fill="#f6f6f6" stroke="#999" stroke-width="1"/>
<rect x="1010" y="519" width="131" height="6" fill="#c8c8c8"/><rect x="1010" y="604" width="131" height="5" fill="#c8c8c8"/>
<rect x="1010" y="519" width="3" height="90" fill="#c8c8c8"/><rect x="1113" y="525" width="5" height="79" fill="#c8c8c8"/>
<rect x="991" y="521" width="5" height="86" fill="#bbb"/>
<g stroke="#111" stroke-width="1"><line x1="988" y1="545" x2="998" y2="535"/><line x1="988" y1="562" x2="998" y2="552"/><line x1="988" y1="579" x2="998" y2="569"/><line x1="988" y1="596" x2="998" y2="586"/></g>
<circle cx="1017" cy="509" r="4" fill="#fff" stroke="#777" stroke-width="0.8"/>
<text x="1023" y="511" font-size="4" fill="#555">Pyranometer</text>
<rect x="1020" y="535" width="24" height="4" fill="#eaea40" stroke="#888" stroke-width="0.4"/><rect x="1048" y="535" width="30" height="4" fill="#888"/><rect x="1081" y="535" width="24" height="4" fill="#eaea40" stroke="#888" stroke-width="0.4"/>
<g stroke="#8080e0" stroke-width="0.8"><line x1="1026" y1="569" x2="1026" y2="604"/><line x1="1051" y1="569" x2="1051" y2="604"/><line x1="1075" y1="569" x2="1075" y2="604"/><line x1="1100" y1="569" x2="1100" y2="604"/><line x1="1013" y1="522" x2="1130" y2="522"/><line x1="1130" y1="522" x2="1130" y2="580"/><line x1="1013" y1="606" x2="1130" y2="606"/></g>
<g stroke="#f08080" stroke-width="0.8"><line x1="1000" y1="523" x2="1000" y2="612"/><line x1="1000" y1="612" x2="1125" y2="612"/><line x1="1125" y1="530" x2="1125" y2="612"/></g>
<g fill="#e02020"><rect x="1025" y="568" width="2" height="2"/><rect x="1050" y="568" width="2" height="2"/><rect x="1074" y="568" width="2" height="2"/><rect x="1099" y="568" width="2" height="2"/><rect x="958" y="569" width="2" height="2"/></g>
<ellipse cx="1038" cy="577" rx="3" ry="1.3" fill="#eaea40"/><ellipse cx="1088" cy="577" rx="3" ry="1.3" fill="#eaea40"/>
<line x1="959" y1="571" x2="959" y2="615" stroke="#aaa" stroke-width="0.8"/>
<rect x="1120" y="581" width="14" height="10" fill="#eee" stroke="#666" stroke-width="0.7"/>
<rect x="950" y="521" width="32" height="12" fill="#fff" stroke="#999" stroke-width="0.5"/>
<line x1="1155" y1="519" x2="1155" y2="608" stroke="#aaa" stroke-width="0.6"/>
<g stroke="#aaa" stroke-width="0.6"><line x1="1010" y1="625" x2="1141" y2="625"/><line x1="1010" y1="635" x2="1141" y2="635"/><line x1="1010" y1="620" x2="1010" y2="640"/><line x1="1141" y1="620" x2="1141" y2="640"/><line x1="1114" y1="620" x2="1114" y2="630"/></g>
<g font-size="4" fill="#555"><text x="1058" y="632">4.0 m</text><text x="1124" y="632">1.0 m</text><text x="1070" y="642">5.0 m</text><text x="1137" y="582">Computer</text><text x="1040" y="548">Light</text><text x="1059" y="560">Thermostat</text><text x="1058" y="566">Illuminometer</text><text x="963" y="572">Thermostat</text></g>
</svg>
</body></html>
